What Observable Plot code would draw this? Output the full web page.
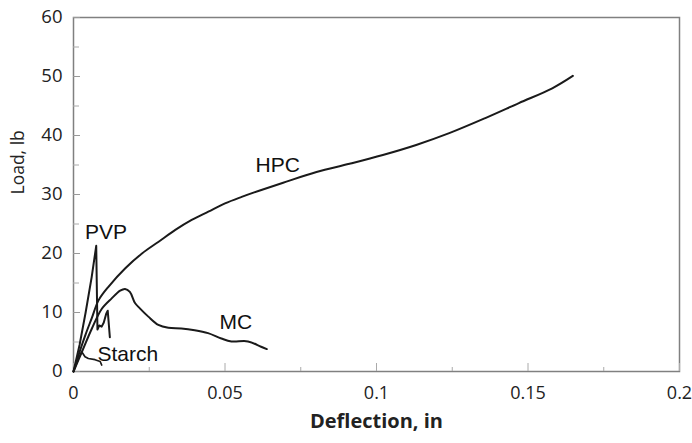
<!DOCTYPE html>
<html>
<head>
<meta charset="utf-8">
<script src="https://cdn.jsdelivr.net/npm/d3@7"></script>
<script src="https://cdn.jsdelivr.net/npm/@observablehq/plot@0.6"></script>
<style>
  html, body { margin: 0; padding: 0; background: #fff; }
  #chart svg { display: block; }
</style>
</head>
<body>
<div id="chart"></div>
<script>
// Load–deflection curves
const hpcX = [0, 0.002, 0.004, 0.006, 0.0083, 0.0116, 0.0171, 0.0226, 0.0281, 0.0336, 0.039, 0.0445, 0.05, 0.0555, 0.061, 0.0692, 0.0802, 0.0911, 0.1021, 0.1131, 0.124, 0.1361, 0.147, 0.158, 0.1648];
const hpcY = [0, 3.3, 6.3, 9.0, 12.1, 14.4, 17.5, 20.0, 22.0, 24.0, 25.7, 27.1, 28.5, 29.6, 30.6, 32.0, 33.8, 35.2, 36.7, 38.4, 40.4, 43.0, 45.5, 48.0, 50.1];

const mcX = [0, 0.003, 0.006, 0.0093, 0.0126, 0.0154, 0.017, 0.0186, 0.0203, 0.0219, 0.0247, 0.028, 0.0313, 0.0356, 0.04, 0.0444, 0.0488, 0.0521, 0.0576, 0.0619, 0.0638];
const mcY = [0, 3.6, 7.2, 10.6, 12.4, 13.7, 14.0, 13.5, 11.6, 10.7, 9.3, 7.9, 7.4, 7.3, 7.0, 6.5, 5.6, 5.1, 5.1, 4.2, 3.8];

const pvpX = [0, 0.002, 0.004, 0.006, 0.0075, 0.0079, 0.0085, 0.0093, 0.0100, 0.0108, 0.0113, 0.0120];
const pvpY = [0, 4.5, 10.0, 16.0, 21.3, 7.1, 7.8, 7.6, 8.3, 9.8, 10.3, 5.8];

const starchX = [0, 0.0015, 0.0027, 0.0038, 0.0049, 0.0071, 0.0088, 0.0093];
const starchY = [0, 2.0, 3.35, 2.5, 2.2, 2.0, 1.7, 1.1];

const labelNames = ["HPC", "PVP", "MC", "Starch"];
const labelX = [0.0674, 0.0107, 0.0536, 0.0179];
const labelY = [34.9, 23.6, 8.4, 3.0];

const xTicks = [0, 0.05, 0.1, 0.15, 0.2];
const xMinor = [0.025, 0.075, 0.125, 0.175];
const yTicks = [0, 10, 20, 30, 40, 50, 60];
const yMinor = [5, 15, 25, 35, 45, 55];

const toRows = (xs, ys) => xs.map((x, i) => ({x, y: ys[i]}));
const labels = labelNames.map((name, i) => ({name, x: labelX[i], y: labelY[i]}));

const tickFont = "'Open Sans', 'Noto Sans', sans-serif";
const lineColor = "#1a1a1a";

const chart = Plot.plot({
  width: 692,
  height: 443,
  marginLeft: 73,
  marginRight: 13,
  marginTop: 17,
  marginBottom: 72,
  style: {fontFamily: tickFont, background: "#fff", color: "#222", overflow: "visible"},
  x: {domain: [0, 0.2]},
  y: {domain: [0, 60]},
  marks: [
    Plot.frame({stroke: "#808080", strokeWidth: 1.5}),
    Plot.axisX({ticks: xMinor, tickSize: -4, stroke: "#aaa", text: null, label: null}),
    Plot.axisX({ticks: xTicks, tickSize: -8, stroke: "#aaa", text: null, label: null}),
    Plot.axisX({ticks: xTicks, tickSize: 0, tickPadding: 15, fontSize: 18, tickFormat: d => String(d), label: null, fill: "#222"}),
    Plot.axisY({ticks: yTicks, tickSize: -7, stroke: "#999", text: null, label: null}),
    Plot.axisY({ticks: yTicks, tickSize: 0, tickPadding: 11, fontSize: 18.5, tickFormat: d => String(d), label: null, fill: "#222"}),
    Plot.axisY({ticks: yMinor, tickSize: -6, stroke: "#aaa", text: null, label: null}),
    Plot.line(toRows(hpcX, hpcY), {x: "x", y: "y", stroke: lineColor, strokeWidth: 2, curve: "catmull-rom"}),
    Plot.line(toRows(mcX, mcY), {x: "x", y: "y", stroke: lineColor, strokeWidth: 2, curve: "catmull-rom"}),
    Plot.line(toRows(pvpX, pvpY), {x: "x", y: "y", stroke: lineColor, strokeWidth: 2}),
    Plot.line(toRows(starchX, starchY), {x: "x", y: "y", stroke: lineColor, strokeWidth: 1.7}),
    Plot.text(labels, {x: "x", y: "y", text: "name", fontSize: 21, fontFamily: "'Liberation Sans', Arial, sans-serif", fill: "#111"}),
    Plot.text(["Deflection, in"], {frameAnchor: "bottom", dy: 56, fontSize: 20, fontWeight: "bold", fill: "#222"}),
    Plot.text(["Load, lb"], {frameAnchor: "left", dx: -55, rotate: -90, fontSize: 17.5, fill: "#222"})
  ]
});

document.getElementById("chart").appendChild(chart);
</script>
</body>
</html>
